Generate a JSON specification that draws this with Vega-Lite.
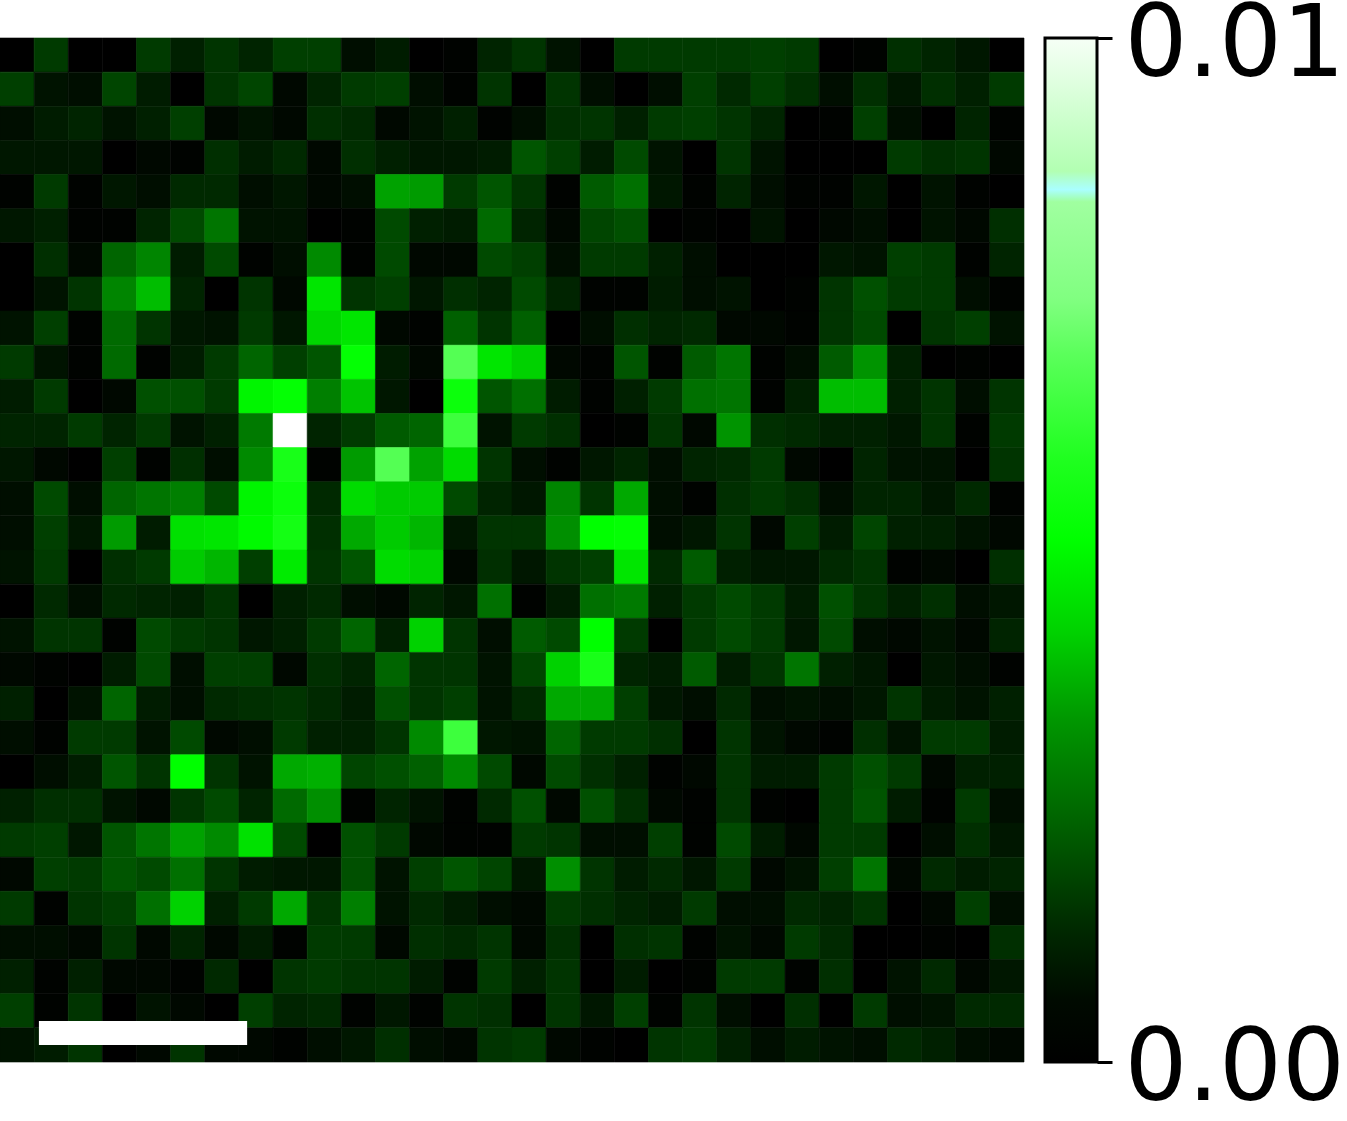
{"$schema":"https://vega.github.io/schema/vega-lite/v6.json","padding":{"left":-1,"top":-4,"right":0,"bottom":0},"background":"white","spacing":18,"config":{"view":{"stroke":null}},"hconcat":[{"width":1024,"height":1024,"layer":[{"data":{"values":[
{"r":0,"c":0,"v":0},{"r":0,"c":1,"v":0.0016},{"r":0,"c":2,"v":0},{"r":0,"c":3,"v":0},{"r":0,"c":4,"v":0.0016},{"r":0,"c":5,"v":0.0011},{"r":0,"c":6,"v":0.0015},{"r":0,"c":7,"v":0.0012},{"r":0,"c":8,"v":0.0017},{"r":0,"c":9,"v":0.0017},{"r":0,"c":10,"v":0.0007},{"r":0,"c":11,"v":0.001},{"r":0,"c":12,"v":0},{"r":0,"c":13,"v":0.0002},{"r":0,"c":14,"v":0.0012},{"r":0,"c":15,"v":0.0015},{"r":0,"c":16,"v":0.0008},{"r":0,"c":17,"v":0},{"r":0,"c":18,"v":0.0016},{"r":0,"c":19,"v":0.0016},{"r":0,"c":20,"v":0.0016},{"r":0,"c":21,"v":0.0016},{"r":0,"c":22,"v":0.0017},{"r":0,"c":23,"v":0.0016},{"r":0,"c":24,"v":0},{"r":0,"c":25,"v":0.0002},{"r":0,"c":26,"v":0.0014},{"r":0,"c":27,"v":0.0012},{"r":0,"c":28,"v":0.0009},{"r":0,"c":29,"v":0},
{"r":1,"c":0,"v":0.0017},{"r":1,"c":1,"v":0.0008},{"r":1,"c":2,"v":0.0007},{"r":1,"c":3,"v":0.0018},{"r":1,"c":4,"v":0.001},{"r":1,"c":5,"v":0},{"r":1,"c":6,"v":0.0015},{"r":1,"c":7,"v":0.0018},{"r":1,"c":8,"v":0.0005},{"r":1,"c":9,"v":0.0012},{"r":1,"c":10,"v":0.0016},{"r":1,"c":11,"v":0.0017},{"r":1,"c":12,"v":0.0007},{"r":1,"c":13,"v":0.0002},{"r":1,"c":14,"v":0.0015},{"r":1,"c":15,"v":0},{"r":1,"c":16,"v":0.0015},{"r":1,"c":17,"v":0.0007},{"r":1,"c":18,"v":0},{"r":1,"c":19,"v":0.0007},{"r":1,"c":20,"v":0.0017},{"r":1,"c":21,"v":0.0013},{"r":1,"c":22,"v":0.0017},{"r":1,"c":23,"v":0.0014},{"r":1,"c":24,"v":0.0007},{"r":1,"c":25,"v":0.0014},{"r":1,"c":26,"v":0.0009},{"r":1,"c":27,"v":0.0014},{"r":1,"c":28,"v":0.0011},{"r":1,"c":29,"v":0.0016},
{"r":2,"c":0,"v":0.0007},{"r":2,"c":1,"v":0.001},{"r":2,"c":2,"v":0.0012},{"r":2,"c":3,"v":0.0008},{"r":2,"c":4,"v":0.0011},{"r":2,"c":5,"v":0.0017},{"r":2,"c":6,"v":0.0005},{"r":2,"c":7,"v":0.0008},{"r":2,"c":8,"v":0.0005},{"r":2,"c":9,"v":0.0014},{"r":2,"c":10,"v":0.0013},{"r":2,"c":11,"v":0.0005},{"r":2,"c":12,"v":0.0008},{"r":2,"c":13,"v":0.0011},{"r":2,"c":14,"v":0.0002},{"r":2,"c":15,"v":0.0007},{"r":2,"c":16,"v":0.0014},{"r":2,"c":17,"v":0.0015},{"r":2,"c":18,"v":0.0011},{"r":2,"c":19,"v":0.0016},{"r":2,"c":20,"v":0.0017},{"r":2,"c":21,"v":0.0015},{"r":2,"c":22,"v":0.0012},{"r":2,"c":23,"v":0},{"r":2,"c":24,"v":0.0002},{"r":2,"c":25,"v":0.0017},{"r":2,"c":26,"v":0.0007},{"r":2,"c":27,"v":0},{"r":2,"c":28,"v":0.0012},{"r":2,"c":29,"v":0.0002},
{"r":3,"c":0,"v":0.0009},{"r":3,"c":1,"v":0.0009},{"r":3,"c":2,"v":0.0009},{"r":3,"c":3,"v":0},{"r":3,"c":4,"v":0.0005},{"r":3,"c":5,"v":0.0002},{"r":3,"c":6,"v":0.0014},{"r":3,"c":7,"v":0.001},{"r":3,"c":8,"v":0.0013},{"r":3,"c":9,"v":0.0005},{"r":3,"c":10,"v":0.0014},{"r":3,"c":11,"v":0.0011},{"r":3,"c":12,"v":0.0009},{"r":3,"c":13,"v":0.0009},{"r":3,"c":14,"v":0.001},{"r":3,"c":15,"v":0.0021},{"r":3,"c":16,"v":0.0017},{"r":3,"c":17,"v":0.001},{"r":3,"c":18,"v":0.0019},{"r":3,"c":19,"v":0.0008},{"r":3,"c":20,"v":0},{"r":3,"c":21,"v":0.0015},{"r":3,"c":22,"v":0.0008},{"r":3,"c":23,"v":0},{"r":3,"c":24,"v":0},{"r":3,"c":25,"v":0},{"r":3,"c":26,"v":0.0016},{"r":3,"c":27,"v":0.0014},{"r":3,"c":28,"v":0.0015},{"r":3,"c":29,"v":0.0005},
{"r":4,"c":0,"v":0.0002},{"r":4,"c":1,"v":0.0016},{"r":4,"c":2,"v":0.0002},{"r":4,"c":3,"v":0.0009},{"r":4,"c":4,"v":0.0007},{"r":4,"c":5,"v":0.0013},{"r":4,"c":6,"v":0.0013},{"r":4,"c":7,"v":0.0007},{"r":4,"c":8,"v":0.0009},{"r":4,"c":9,"v":0.0005},{"r":4,"c":10,"v":0.0007},{"r":4,"c":11,"v":0.0035},{"r":4,"c":12,"v":0.0034},{"r":4,"c":13,"v":0.0016},{"r":4,"c":14,"v":0.0021},{"r":4,"c":15,"v":0.0015},{"r":4,"c":16,"v":0.0002},{"r":4,"c":17,"v":0.0022},{"r":4,"c":18,"v":0.0026},{"r":4,"c":19,"v":0.0009},{"r":4,"c":20,"v":0.0002},{"r":4,"c":21,"v":0.0012},{"r":4,"c":22,"v":0.0007},{"r":4,"c":23,"v":0.0002},{"r":4,"c":24,"v":0.0002},{"r":4,"c":25,"v":0.0009},{"r":4,"c":26,"v":0},{"r":4,"c":27,"v":0.0008},{"r":4,"c":28,"v":0.0002},{"r":4,"c":29,"v":0},
{"r":5,"c":0,"v":0.0009},{"r":5,"c":1,"v":0.0011},{"r":5,"c":2,"v":0.0002},{"r":5,"c":3,"v":0.0002},{"r":5,"c":4,"v":0.0012},{"r":5,"c":5,"v":0.0019},{"r":5,"c":6,"v":0.0027},{"r":5,"c":7,"v":0.0008},{"r":5,"c":8,"v":0.0008},{"r":5,"c":9,"v":0},{"r":5,"c":10,"v":0.0002},{"r":5,"c":11,"v":0.0019},{"r":5,"c":12,"v":0.0011},{"r":5,"c":13,"v":0.001},{"r":5,"c":14,"v":0.0025},{"r":5,"c":15,"v":0.0012},{"r":5,"c":16,"v":0.0005},{"r":5,"c":17,"v":0.0018},{"r":5,"c":18,"v":0.002},{"r":5,"c":19,"v":0},{"r":5,"c":20,"v":0.0002},{"r":5,"c":21,"v":0},{"r":5,"c":22,"v":0.0008},{"r":5,"c":23,"v":0},{"r":5,"c":24,"v":0.0005},{"r":5,"c":25,"v":0.0007},{"r":5,"c":26,"v":0},{"r":5,"c":27,"v":0.0008},{"r":5,"c":28,"v":0.0005},{"r":5,"c":29,"v":0.0014},
{"r":6,"c":0,"v":0},{"r":6,"c":1,"v":0.0014},{"r":6,"c":2,"v":0.0005},{"r":6,"c":3,"v":0.0024},{"r":6,"c":4,"v":0.003},{"r":6,"c":5,"v":0.001},{"r":6,"c":6,"v":0.0019},{"r":6,"c":7,"v":0.0002},{"r":6,"c":8,"v":0.0007},{"r":6,"c":9,"v":0.0031},{"r":6,"c":10,"v":0.0002},{"r":6,"c":11,"v":0.0019},{"r":6,"c":12,"v":0.0005},{"r":6,"c":13,"v":0.0005},{"r":6,"c":14,"v":0.0019},{"r":6,"c":15,"v":0.0017},{"r":6,"c":16,"v":0.0007},{"r":6,"c":17,"v":0.0016},{"r":6,"c":18,"v":0.0016},{"r":6,"c":19,"v":0.0011},{"r":6,"c":20,"v":0.0007},{"r":6,"c":21,"v":0},{"r":6,"c":22,"v":0},{"r":6,"c":23,"v":0},{"r":6,"c":24,"v":0.0009},{"r":6,"c":25,"v":0.0008},{"r":6,"c":26,"v":0.0017},{"r":6,"c":27,"v":0.0016},{"r":6,"c":28,"v":0.0002},{"r":6,"c":29,"v":0.0012},
{"r":7,"c":0,"v":0},{"r":7,"c":1,"v":0.0008},{"r":7,"c":2,"v":0.0015},{"r":7,"c":3,"v":0.003},{"r":7,"c":4,"v":0.0039},{"r":7,"c":5,"v":0.0012},{"r":7,"c":6,"v":0},{"r":7,"c":7,"v":0.0015},{"r":7,"c":8,"v":0.0005},{"r":7,"c":9,"v":0.0046},{"r":7,"c":10,"v":0.0015},{"r":7,"c":11,"v":0.0017},{"r":7,"c":12,"v":0.0009},{"r":7,"c":13,"v":0.0014},{"r":7,"c":14,"v":0.0012},{"r":7,"c":15,"v":0.0019},{"r":7,"c":16,"v":0.0012},{"r":7,"c":17,"v":0.0002},{"r":7,"c":18,"v":0.0002},{"r":7,"c":19,"v":0.001},{"r":7,"c":20,"v":0.0007},{"r":7,"c":21,"v":0.0008},{"r":7,"c":22,"v":0},{"r":7,"c":23,"v":0.0002},{"r":7,"c":24,"v":0.0015},{"r":7,"c":25,"v":0.002},{"r":7,"c":26,"v":0.0016},{"r":7,"c":27,"v":0.0016},{"r":7,"c":28,"v":0.0007},{"r":7,"c":29,"v":0.0002},
{"r":8,"c":0,"v":0.0008},{"r":8,"c":1,"v":0.0017},{"r":8,"c":2,"v":0.0002},{"r":8,"c":3,"v":0.0025},{"r":8,"c":4,"v":0.0015},{"r":8,"c":5,"v":0.0009},{"r":8,"c":6,"v":0.0008},{"r":8,"c":7,"v":0.0016},{"r":8,"c":8,"v":0.0009},{"r":8,"c":9,"v":0.0043},{"r":8,"c":10,"v":0.0046},{"r":8,"c":11,"v":0.0005},{"r":8,"c":12,"v":0.0002},{"r":8,"c":13,"v":0.0023},{"r":8,"c":14,"v":0.0015},{"r":8,"c":15,"v":0.0023},{"r":8,"c":16,"v":0},{"r":8,"c":17,"v":0.0007},{"r":8,"c":18,"v":0.0014},{"r":8,"c":19,"v":0.0012},{"r":8,"c":20,"v":0.0013},{"r":8,"c":21,"v":0.0005},{"r":8,"c":22,"v":0.0005},{"r":8,"c":23,"v":0.0002},{"r":8,"c":24,"v":0.0015},{"r":8,"c":25,"v":0.0019},{"r":8,"c":26,"v":0},{"r":8,"c":27,"v":0.0015},{"r":8,"c":28,"v":0.0017},{"r":8,"c":29,"v":0.0008},
{"r":9,"c":0,"v":0.0016},{"r":9,"c":1,"v":0.0008},{"r":9,"c":2,"v":0.0002},{"r":9,"c":3,"v":0.0025},{"r":9,"c":4,"v":0.0002},{"r":9,"c":5,"v":0.001},{"r":9,"c":6,"v":0.0016},{"r":9,"c":7,"v":0.0024},{"r":9,"c":8,"v":0.0017},{"r":9,"c":9,"v":0.0021},{"r":9,"c":10,"v":0.0052},{"r":9,"c":11,"v":0.001},{"r":9,"c":12,"v":0.0005},{"r":9,"c":13,"v":0.0068},{"r":9,"c":14,"v":0.0046},{"r":9,"c":15,"v":0.0042},{"r":9,"c":16,"v":0.0005},{"r":9,"c":17,"v":0.0002},{"r":9,"c":18,"v":0.0021},{"r":9,"c":19,"v":0.0002},{"r":9,"c":20,"v":0.0022},{"r":9,"c":21,"v":0.0027},{"r":9,"c":22,"v":0.0002},{"r":9,"c":23,"v":0.0007},{"r":9,"c":24,"v":0.0022},{"r":9,"c":25,"v":0.0033},{"r":9,"c":26,"v":0.0011},{"r":9,"c":27,"v":0},{"r":9,"c":28,"v":0.0002},{"r":9,"c":29,"v":0},
{"r":10,"c":0,"v":0.001},{"r":10,"c":1,"v":0.0016},{"r":10,"c":2,"v":0},{"r":10,"c":3,"v":0.0005},{"r":10,"c":4,"v":0.002},{"r":10,"c":5,"v":0.002},{"r":10,"c":6,"v":0.0016},{"r":10,"c":7,"v":0.0049},{"r":10,"c":8,"v":0.0052},{"r":10,"c":9,"v":0.0029},{"r":10,"c":10,"v":0.004},{"r":10,"c":11,"v":0.0009},{"r":10,"c":12,"v":0},{"r":10,"c":13,"v":0.0054},{"r":10,"c":14,"v":0.0021},{"r":10,"c":15,"v":0.0026},{"r":10,"c":16,"v":0.001},{"r":10,"c":17,"v":0.0002},{"r":10,"c":18,"v":0.0011},{"r":10,"c":19,"v":0.0016},{"r":10,"c":20,"v":0.0026},{"r":10,"c":21,"v":0.0027},{"r":10,"c":22,"v":0.0002},{"r":10,"c":23,"v":0.0011},{"r":10,"c":24,"v":0.0039},{"r":10,"c":25,"v":0.0039},{"r":10,"c":26,"v":0.0011},{"r":10,"c":27,"v":0.0015},{"r":10,"c":28,"v":0.0007},{"r":10,"c":29,"v":0.0015},
{"r":11,"c":0,"v":0.0012},{"r":11,"c":1,"v":0.0012},{"r":11,"c":2,"v":0.0016},{"r":11,"c":3,"v":0.0012},{"r":11,"c":4,"v":0.0016},{"r":11,"c":5,"v":0.0008},{"r":11,"c":6,"v":0.0011},{"r":11,"c":7,"v":0.0028},{"r":11,"c":8,"v":0.01},{"r":11,"c":9,"v":0.0012},{"r":11,"c":10,"v":0.0016},{"r":11,"c":11,"v":0.0022},{"r":11,"c":12,"v":0.0024},{"r":11,"c":13,"v":0.0064},{"r":11,"c":14,"v":0.0008},{"r":11,"c":15,"v":0.0016},{"r":11,"c":16,"v":0.0014},{"r":11,"c":17,"v":0},{"r":11,"c":18,"v":0.0002},{"r":11,"c":19,"v":0.0015},{"r":11,"c":20,"v":0.0005},{"r":11,"c":21,"v":0.0033},{"r":11,"c":22,"v":0.0014},{"r":11,"c":23,"v":0.0013},{"r":11,"c":24,"v":0.0011},{"r":11,"c":25,"v":0.0011},{"r":11,"c":26,"v":0.0009},{"r":11,"c":27,"v":0.0015},{"r":11,"c":28,"v":0.0002},{"r":11,"c":29,"v":0.0016},
{"r":12,"c":0,"v":0.0009},{"r":12,"c":1,"v":0.0005},{"r":12,"c":2,"v":0},{"r":12,"c":3,"v":0.0017},{"r":12,"c":4,"v":0.0002},{"r":12,"c":5,"v":0.0014},{"r":12,"c":6,"v":0.0007},{"r":12,"c":7,"v":0.0031},{"r":12,"c":8,"v":0.0057},{"r":12,"c":9,"v":0.0002},{"r":12,"c":10,"v":0.0034},{"r":12,"c":11,"v":0.0068},{"r":12,"c":12,"v":0.0035},{"r":12,"c":13,"v":0.0044},{"r":12,"c":14,"v":0.0015},{"r":12,"c":15,"v":0.0007},{"r":12,"c":16,"v":0.0002},{"r":12,"c":17,"v":0.0009},{"r":12,"c":18,"v":0.0012},{"r":12,"c":19,"v":0.0007},{"r":12,"c":20,"v":0.0012},{"r":12,"c":21,"v":0.0013},{"r":12,"c":22,"v":0.0016},{"r":12,"c":23,"v":0.0005},{"r":12,"c":24,"v":0},{"r":12,"c":25,"v":0.0012},{"r":12,"c":26,"v":0.0008},{"r":12,"c":27,"v":0.0008},{"r":12,"c":28,"v":0},{"r":12,"c":29,"v":0.0015},
{"r":13,"c":0,"v":0.0007},{"r":13,"c":1,"v":0.0019},{"r":13,"c":2,"v":0.0007},{"r":13,"c":3,"v":0.0024},{"r":13,"c":4,"v":0.0027},{"r":13,"c":5,"v":0.0029},{"r":13,"c":6,"v":0.0019},{"r":13,"c":7,"v":0.0049},{"r":13,"c":8,"v":0.0054},{"r":13,"c":9,"v":0.0013},{"r":13,"c":10,"v":0.0044},{"r":13,"c":11,"v":0.0041},{"r":13,"c":12,"v":0.0041},{"r":13,"c":13,"v":0.0019},{"r":13,"c":14,"v":0.0012},{"r":13,"c":15,"v":0.0009},{"r":13,"c":16,"v":0.003},{"r":13,"c":17,"v":0.0015},{"r":13,"c":18,"v":0.0036},{"r":13,"c":19,"v":0.0007},{"r":13,"c":20,"v":0.0002},{"r":13,"c":21,"v":0.0014},{"r":13,"c":22,"v":0.0016},{"r":13,"c":23,"v":0.0014},{"r":13,"c":24,"v":0.0007},{"r":13,"c":25,"v":0.0012},{"r":13,"c":26,"v":0.0012},{"r":13,"c":27,"v":0.0009},{"r":13,"c":28,"v":0.0013},{"r":13,"c":29,"v":0.0002},
{"r":14,"c":0,"v":0.0007},{"r":14,"c":1,"v":0.0017},{"r":14,"c":2,"v":0.0009},{"r":14,"c":3,"v":0.0034},{"r":14,"c":4,"v":0.001},{"r":14,"c":5,"v":0.0045},{"r":14,"c":6,"v":0.0046},{"r":14,"c":7,"v":0.005},{"r":14,"c":8,"v":0.0056},{"r":14,"c":9,"v":0.0014},{"r":14,"c":10,"v":0.0036},{"r":14,"c":11,"v":0.0041},{"r":14,"c":12,"v":0.0038},{"r":14,"c":13,"v":0.0009},{"r":14,"c":14,"v":0.0015},{"r":14,"c":15,"v":0.0015},{"r":14,"c":16,"v":0.0032},{"r":14,"c":17,"v":0.0051},{"r":14,"c":18,"v":0.0052},{"r":14,"c":19,"v":0.0007},{"r":14,"c":20,"v":0.0009},{"r":14,"c":21,"v":0.0015},{"r":14,"c":22,"v":0.0005},{"r":14,"c":23,"v":0.0017},{"r":14,"c":24,"v":0.001},{"r":14,"c":25,"v":0.0018},{"r":14,"c":26,"v":0.0011},{"r":14,"c":27,"v":0.0011},{"r":14,"c":28,"v":0.0008},{"r":14,"c":29,"v":0.0005},
{"r":15,"c":0,"v":0.0008},{"r":15,"c":1,"v":0.0016},{"r":15,"c":2,"v":0},{"r":15,"c":3,"v":0.0014},{"r":15,"c":4,"v":0.0016},{"r":15,"c":5,"v":0.0041},{"r":15,"c":6,"v":0.0038},{"r":15,"c":7,"v":0.0017},{"r":15,"c":8,"v":0.0047},{"r":15,"c":9,"v":0.0015},{"r":15,"c":10,"v":0.0021},{"r":15,"c":11,"v":0.0044},{"r":15,"c":12,"v":0.0042},{"r":15,"c":13,"v":0.0005},{"r":15,"c":14,"v":0.0014},{"r":15,"c":15,"v":0.0009},{"r":15,"c":16,"v":0.0015},{"r":15,"c":17,"v":0.0017},{"r":15,"c":18,"v":0.0046},{"r":15,"c":19,"v":0.0013},{"r":15,"c":20,"v":0.0022},{"r":15,"c":21,"v":0.0011},{"r":15,"c":22,"v":0.0009},{"r":15,"c":23,"v":0.0009},{"r":15,"c":24,"v":0.0013},{"r":15,"c":25,"v":0.0015},{"r":15,"c":26,"v":0.0002},{"r":15,"c":27,"v":0.0005},{"r":15,"c":28,"v":0},{"r":15,"c":29,"v":0.0014},
{"r":16,"c":0,"v":0},{"r":16,"c":1,"v":0.0013},{"r":16,"c":2,"v":0.0007},{"r":16,"c":3,"v":0.0013},{"r":16,"c":4,"v":0.0012},{"r":16,"c":5,"v":0.0011},{"r":16,"c":6,"v":0.0015},{"r":16,"c":7,"v":0},{"r":16,"c":8,"v":0.0011},{"r":16,"c":9,"v":0.0013},{"r":16,"c":10,"v":0.0007},{"r":16,"c":11,"v":0.0005},{"r":16,"c":12,"v":0.0012},{"r":16,"c":13,"v":0.0009},{"r":16,"c":14,"v":0.0026},{"r":16,"c":15,"v":0.0002},{"r":16,"c":16,"v":0.001},{"r":16,"c":17,"v":0.0026},{"r":16,"c":18,"v":0.0028},{"r":16,"c":19,"v":0.0011},{"r":16,"c":20,"v":0.0016},{"r":16,"c":21,"v":0.0019},{"r":16,"c":22,"v":0.0016},{"r":16,"c":23,"v":0.001},{"r":16,"c":24,"v":0.002},{"r":16,"c":25,"v":0.0015},{"r":16,"c":26,"v":0.0011},{"r":16,"c":27,"v":0.0014},{"r":16,"c":28,"v":0.0007},{"r":16,"c":29,"v":0.0009},
{"r":17,"c":0,"v":0.0008},{"r":17,"c":1,"v":0.0015},{"r":17,"c":2,"v":0.0015},{"r":17,"c":3,"v":0.0002},{"r":17,"c":4,"v":0.0019},{"r":17,"c":5,"v":0.0016},{"r":17,"c":6,"v":0.0015},{"r":17,"c":7,"v":0.0009},{"r":17,"c":8,"v":0.0011},{"r":17,"c":9,"v":0.0016},{"r":17,"c":10,"v":0.0024},{"r":17,"c":11,"v":0.0011},{"r":17,"c":12,"v":0.0042},{"r":17,"c":13,"v":0.0015},{"r":17,"c":14,"v":0.0007},{"r":17,"c":15,"v":0.0022},{"r":17,"c":16,"v":0.0019},{"r":17,"c":17,"v":0.0051},{"r":17,"c":18,"v":0.0016},{"r":17,"c":19,"v":0},{"r":17,"c":20,"v":0.0016},{"r":17,"c":21,"v":0.0019},{"r":17,"c":22,"v":0.0016},{"r":17,"c":23,"v":0.0009},{"r":17,"c":24,"v":0.0019},{"r":17,"c":25,"v":0.0007},{"r":17,"c":26,"v":0.0005},{"r":17,"c":27,"v":0.0008},{"r":17,"c":28,"v":0.0005},{"r":17,"c":29,"v":0.0012},
{"r":18,"c":0,"v":0.0005},{"r":18,"c":1,"v":0.0002},{"r":18,"c":2,"v":0},{"r":18,"c":3,"v":0.001},{"r":18,"c":4,"v":0.0019},{"r":18,"c":5,"v":0.0007},{"r":18,"c":6,"v":0.0017},{"r":18,"c":7,"v":0.0017},{"r":18,"c":8,"v":0.0005},{"r":18,"c":9,"v":0.0014},{"r":18,"c":10,"v":0.0012},{"r":18,"c":11,"v":0.0024},{"r":18,"c":12,"v":0.0015},{"r":18,"c":13,"v":0.0015},{"r":18,"c":14,"v":0.0008},{"r":18,"c":15,"v":0.0018},{"r":18,"c":16,"v":0.0042},{"r":18,"c":17,"v":0.0057},{"r":18,"c":18,"v":0.0012},{"r":18,"c":19,"v":0.001},{"r":18,"c":20,"v":0.0022},{"r":18,"c":21,"v":0.001},{"r":18,"c":22,"v":0.0015},{"r":18,"c":23,"v":0.0027},{"r":18,"c":24,"v":0.0011},{"r":18,"c":25,"v":0.0009},{"r":18,"c":26,"v":0},{"r":18,"c":27,"v":0.0009},{"r":18,"c":28,"v":0.0007},{"r":18,"c":29,"v":0.0002},
{"r":19,"c":0,"v":0.0011},{"r":19,"c":1,"v":0},{"r":19,"c":2,"v":0.0008},{"r":19,"c":3,"v":0.0024},{"r":19,"c":4,"v":0.001},{"r":19,"c":5,"v":0.0007},{"r":19,"c":6,"v":0.0013},{"r":19,"c":7,"v":0.0014},{"r":19,"c":8,"v":0.0015},{"r":19,"c":9,"v":0.0013},{"r":19,"c":10,"v":0.001},{"r":19,"c":11,"v":0.002},{"r":19,"c":12,"v":0.0015},{"r":19,"c":13,"v":0.0017},{"r":19,"c":14,"v":0.0008},{"r":19,"c":15,"v":0.0013},{"r":19,"c":16,"v":0.0036},{"r":19,"c":17,"v":0.0036},{"r":19,"c":18,"v":0.0017},{"r":19,"c":19,"v":0.0009},{"r":19,"c":20,"v":0.0007},{"r":19,"c":21,"v":0.0013},{"r":19,"c":22,"v":0.0007},{"r":19,"c":23,"v":0.0008},{"r":19,"c":24,"v":0.0007},{"r":19,"c":25,"v":0.0009},{"r":19,"c":26,"v":0.0015},{"r":19,"c":27,"v":0.001},{"r":19,"c":28,"v":0.0008},{"r":19,"c":29,"v":0.0011},
{"r":20,"c":0,"v":0.0007},{"r":20,"c":1,"v":0.0002},{"r":20,"c":2,"v":0.0016},{"r":20,"c":3,"v":0.0016},{"r":20,"c":4,"v":0.0008},{"r":20,"c":5,"v":0.0019},{"r":20,"c":6,"v":0.0005},{"r":20,"c":7,"v":0.0007},{"r":20,"c":8,"v":0.0016},{"r":20,"c":9,"v":0.0011},{"r":20,"c":10,"v":0.0011},{"r":20,"c":11,"v":0.0015},{"r":20,"c":12,"v":0.0031},{"r":20,"c":13,"v":0.0064},{"r":20,"c":14,"v":0.0009},{"r":20,"c":15,"v":0.0008},{"r":20,"c":16,"v":0.0024},{"r":20,"c":17,"v":0.0016},{"r":20,"c":18,"v":0.0016},{"r":20,"c":19,"v":0.0014},{"r":20,"c":20,"v":0},{"r":20,"c":21,"v":0.0015},{"r":20,"c":22,"v":0.0008},{"r":20,"c":23,"v":0.0005},{"r":20,"c":24,"v":0.0002},{"r":20,"c":25,"v":0.0014},{"r":20,"c":26,"v":0.0008},{"r":20,"c":27,"v":0.0016},{"r":20,"c":28,"v":0.0016},{"r":20,"c":29,"v":0.001},
{"r":21,"c":0,"v":0},{"r":21,"c":1,"v":0.0007},{"r":21,"c":2,"v":0.001},{"r":21,"c":3,"v":0.0021},{"r":21,"c":4,"v":0.0015},{"r":21,"c":5,"v":0.0051},{"r":21,"c":6,"v":0.0015},{"r":21,"c":7,"v":0.0008},{"r":21,"c":8,"v":0.0036},{"r":21,"c":9,"v":0.0037},{"r":21,"c":10,"v":0.0018},{"r":21,"c":11,"v":0.002},{"r":21,"c":12,"v":0.0023},{"r":21,"c":13,"v":0.0031},{"r":21,"c":14,"v":0.0019},{"r":21,"c":15,"v":0.0005},{"r":21,"c":16,"v":0.0019},{"r":21,"c":17,"v":0.0014},{"r":21,"c":18,"v":0.0011},{"r":21,"c":19,"v":0.0002},{"r":21,"c":20,"v":0.0005},{"r":21,"c":21,"v":0.0015},{"r":21,"c":22,"v":0.001},{"r":21,"c":23,"v":0.001},{"r":21,"c":24,"v":0.0016},{"r":21,"c":25,"v":0.002},{"r":21,"c":26,"v":0.0016},{"r":21,"c":27,"v":0.0005},{"r":21,"c":28,"v":0.0011},{"r":21,"c":29,"v":0.0011},
{"r":22,"c":0,"v":0.0011},{"r":22,"c":1,"v":0.0014},{"r":22,"c":2,"v":0.0014},{"r":22,"c":3,"v":0.0008},{"r":22,"c":4,"v":0.0005},{"r":22,"c":5,"v":0.0015},{"r":22,"c":6,"v":0.0019},{"r":22,"c":7,"v":0.0012},{"r":22,"c":8,"v":0.0025},{"r":22,"c":9,"v":0.0032},{"r":22,"c":10,"v":0.0002},{"r":22,"c":11,"v":0.0012},{"r":22,"c":12,"v":0.0008},{"r":22,"c":13,"v":0.0002},{"r":22,"c":14,"v":0.0013},{"r":22,"c":15,"v":0.002},{"r":22,"c":16,"v":0.0005},{"r":22,"c":17,"v":0.002},{"r":22,"c":18,"v":0.0014},{"r":22,"c":19,"v":0.0005},{"r":22,"c":20,"v":0.0002},{"r":22,"c":21,"v":0.0015},{"r":22,"c":22,"v":0.0002},{"r":22,"c":23,"v":0},{"r":22,"c":24,"v":0.0016},{"r":22,"c":25,"v":0.0021},{"r":22,"c":26,"v":0.001},{"r":22,"c":27,"v":0.0002},{"r":22,"c":28,"v":0.0016},{"r":22,"c":29,"v":0.0007},
{"r":23,"c":0,"v":0.0016},{"r":23,"c":1,"v":0.0017},{"r":23,"c":2,"v":0.0009},{"r":23,"c":3,"v":0.0021},{"r":23,"c":4,"v":0.0027},{"r":23,"c":5,"v":0.0035},{"r":23,"c":6,"v":0.0031},{"r":23,"c":7,"v":0.0045},{"r":23,"c":8,"v":0.0019},{"r":23,"c":9,"v":0},{"r":23,"c":10,"v":0.002},{"r":23,"c":11,"v":0.0016},{"r":23,"c":12,"v":0.0005},{"r":23,"c":13,"v":0.0002},{"r":23,"c":14,"v":0.0002},{"r":23,"c":15,"v":0.0016},{"r":23,"c":16,"v":0.0015},{"r":23,"c":17,"v":0.0007},{"r":23,"c":18,"v":0.0007},{"r":23,"c":19,"v":0.0017},{"r":23,"c":20,"v":0.0002},{"r":23,"c":21,"v":0.0019},{"r":23,"c":22,"v":0.001},{"r":23,"c":23,"v":0.0005},{"r":23,"c":24,"v":0.0016},{"r":23,"c":25,"v":0.0016},{"r":23,"c":26,"v":0},{"r":23,"c":27,"v":0.0007},{"r":23,"c":28,"v":0.0014},{"r":23,"c":29,"v":0.0009},
{"r":24,"c":0,"v":0.0005},{"r":24,"c":1,"v":0.0017},{"r":24,"c":2,"v":0.0016},{"r":24,"c":3,"v":0.0021},{"r":24,"c":4,"v":0.0019},{"r":24,"c":5,"v":0.0026},{"r":24,"c":6,"v":0.0015},{"r":24,"c":7,"v":0.001},{"r":24,"c":8,"v":0.0009},{"r":24,"c":9,"v":0.0009},{"r":24,"c":10,"v":0.002},{"r":24,"c":11,"v":0.0008},{"r":24,"c":12,"v":0.0017},{"r":24,"c":13,"v":0.0021},{"r":24,"c":14,"v":0.0018},{"r":24,"c":15,"v":0.0009},{"r":24,"c":16,"v":0.0032},{"r":24,"c":17,"v":0.0015},{"r":24,"c":18,"v":0.001},{"r":24,"c":19,"v":0.0013},{"r":24,"c":20,"v":0.0009},{"r":24,"c":21,"v":0.0016},{"r":24,"c":22,"v":0.0005},{"r":24,"c":23,"v":0.0008},{"r":24,"c":24,"v":0.0017},{"r":24,"c":25,"v":0.0027},{"r":24,"c":26,"v":0.0005},{"r":24,"c":27,"v":0.0013},{"r":24,"c":28,"v":0.001},{"r":24,"c":29,"v":0.0012},
{"r":25,"c":0,"v":0.0016},{"r":25,"c":1,"v":0.0002},{"r":25,"c":2,"v":0.0015},{"r":25,"c":3,"v":0.0017},{"r":25,"c":4,"v":0.0026},{"r":25,"c":5,"v":0.0042},{"r":25,"c":6,"v":0.0011},{"r":25,"c":7,"v":0.0016},{"r":25,"c":8,"v":0.0036},{"r":25,"c":9,"v":0.0015},{"r":25,"c":10,"v":0.0029},{"r":25,"c":11,"v":0.0008},{"r":25,"c":12,"v":0.0013},{"r":25,"c":13,"v":0.001},{"r":25,"c":14,"v":0.0007},{"r":25,"c":15,"v":0.0005},{"r":25,"c":16,"v":0.0016},{"r":25,"c":17,"v":0.0014},{"r":25,"c":18,"v":0.0012},{"r":25,"c":19,"v":0.001},{"r":25,"c":20,"v":0.0016},{"r":25,"c":21,"v":0.0007},{"r":25,"c":22,"v":0.0007},{"r":25,"c":23,"v":0.0013},{"r":25,"c":24,"v":0.0012},{"r":25,"c":25,"v":0.0015},{"r":25,"c":26,"v":0},{"r":25,"c":27,"v":0.0005},{"r":25,"c":28,"v":0.0017},{"r":25,"c":29,"v":0.0007},
{"r":26,"c":0,"v":0.0007},{"r":26,"c":1,"v":0.0007},{"r":26,"c":2,"v":0.0005},{"r":26,"c":3,"v":0.0015},{"r":26,"c":4,"v":0.0005},{"r":26,"c":5,"v":0.0012},{"r":26,"c":6,"v":0.0005},{"r":26,"c":7,"v":0.001},{"r":26,"c":8,"v":0.0002},{"r":26,"c":9,"v":0.0016},{"r":26,"c":10,"v":0.0016},{"r":26,"c":11,"v":0.0005},{"r":26,"c":12,"v":0.0014},{"r":26,"c":13,"v":0.0013},{"r":26,"c":14,"v":0.0015},{"r":26,"c":15,"v":0.0005},{"r":26,"c":16,"v":0.0014},{"r":26,"c":17,"v":0},{"r":26,"c":18,"v":0.0014},{"r":26,"c":19,"v":0.0015},{"r":26,"c":20,"v":0.0002},{"r":26,"c":21,"v":0.0008},{"r":26,"c":22,"v":0.0005},{"r":26,"c":23,"v":0.0016},{"r":26,"c":24,"v":0.0013},{"r":26,"c":25,"v":0},{"r":26,"c":26,"v":0},{"r":26,"c":27,"v":0.0002},{"r":26,"c":28,"v":0},{"r":26,"c":29,"v":0.0014},
{"r":27,"c":0,"v":0.0011},{"r":27,"c":1,"v":0.0002},{"r":27,"c":2,"v":0.0011},{"r":27,"c":3,"v":0.0005},{"r":27,"c":4,"v":0.0005},{"r":27,"c":5,"v":0.0002},{"r":27,"c":6,"v":0.0013},{"r":27,"c":7,"v":0},{"r":27,"c":8,"v":0.0015},{"r":27,"c":9,"v":0.0016},{"r":27,"c":10,"v":0.0015},{"r":27,"c":11,"v":0.0015},{"r":27,"c":12,"v":0.001},{"r":27,"c":13,"v":0.0002},{"r":27,"c":14,"v":0.0016},{"r":27,"c":15,"v":0.0011},{"r":27,"c":16,"v":0.0015},{"r":27,"c":17,"v":0},{"r":27,"c":18,"v":0.001},{"r":27,"c":19,"v":0},{"r":27,"c":20,"v":0.0002},{"r":27,"c":21,"v":0.0016},{"r":27,"c":22,"v":0.0016},{"r":27,"c":23,"v":0.0002},{"r":27,"c":24,"v":0.0014},{"r":27,"c":25,"v":0},{"r":27,"c":26,"v":0.0008},{"r":27,"c":27,"v":0.0013},{"r":27,"c":28,"v":0.0005},{"r":27,"c":29,"v":0.0009},
{"r":28,"c":0,"v":0.0017},{"r":28,"c":1,"v":0.0002},{"r":28,"c":2,"v":0.0015},{"r":28,"c":3,"v":0},{"r":28,"c":4,"v":0.0008},{"r":28,"c":5,"v":0.0005},{"r":28,"c":6,"v":0},{"r":28,"c":7,"v":0.0017},{"r":28,"c":8,"v":0.0012},{"r":28,"c":9,"v":0.0013},{"r":28,"c":10,"v":0.0002},{"r":28,"c":11,"v":0.0009},{"r":28,"c":12,"v":0.0002},{"r":28,"c":13,"v":0.0015},{"r":28,"c":14,"v":0.0014},{"r":28,"c":15,"v":0},{"r":28,"c":16,"v":0.0015},{"r":28,"c":17,"v":0.0009},{"r":28,"c":18,"v":0.0017},{"r":28,"c":19,"v":0.0002},{"r":28,"c":20,"v":0.0015},{"r":28,"c":21,"v":0.0007},{"r":28,"c":22,"v":0},{"r":28,"c":23,"v":0.0014},{"r":28,"c":24,"v":0},{"r":28,"c":25,"v":0.0016},{"r":28,"c":26,"v":0.0007},{"r":28,"c":27,"v":0.0008},{"r":28,"c":28,"v":0.0013},{"r":28,"c":29,"v":0.0013},
{"r":29,"c":0,"v":0.0008},{"r":29,"c":1,"v":0.001},{"r":29,"c":2,"v":0.0015},{"r":29,"c":3,"v":0},{"r":29,"c":4,"v":0.0005},{"r":29,"c":5,"v":0.0015},{"r":29,"c":6,"v":0.0005},{"r":29,"c":7,"v":0.0005},{"r":29,"c":8,"v":0.0002},{"r":29,"c":9,"v":0.0007},{"r":29,"c":10,"v":0.0009},{"r":29,"c":11,"v":0.0014},{"r":29,"c":12,"v":0.0007},{"r":29,"c":13,"v":0.0005},{"r":29,"c":14,"v":0.0015},{"r":29,"c":15,"v":0.0016},{"r":29,"c":16,"v":0.0005},{"r":29,"c":17,"v":0.0002},{"r":29,"c":18,"v":0},{"r":29,"c":19,"v":0.0015},{"r":29,"c":20,"v":0.0016},{"r":29,"c":21,"v":0.0011},{"r":29,"c":22,"v":0.0007},{"r":29,"c":23,"v":0.001},{"r":29,"c":24,"v":0.0008},{"r":29,"c":25,"v":0.0007},{"r":29,"c":26,"v":0.0013},{"r":29,"c":27,"v":0.0011},{"r":29,"c":28,"v":0.0007},{"r":29,"c":29,"v":0.0005}
]},"mark":{"type":"rect","strokeWidth":0.6},"encoding":{"x":{"field":"c","type":"ordinal","axis":null,"scale":{"paddingInner":0,"paddingOuter":0,"round":false}},"y":{"field":"r","type":"ordinal","axis":null,"scale":{"paddingInner":0,"paddingOuter":0,"round":false}},"color":{"field":"v","type":"quantitative","legend":null,"scale":{"domain":[0,0.0006,0.00128,0.0023,0.00333,0.0042,0.0051,0.0059,0.00693,0.00744,0.0084,0.00852,0.0087,0.01],"range":["#000000","#000a00","#002800","#006000","#009600","#00d200","#00ff00","#20ff20","#5cff5c","#80ff80","#a0ffa0","#aaffff","#b2ffb2","#ffffff"],"interpolate":"rgb"}},"stroke":{"field":"v","type":"quantitative","legend":null,"scale":{"domain":[0,0.0006,0.00128,0.0023,0.00333,0.0042,0.0051,0.0059,0.00693,0.00744,0.0084,0.00852,0.0087,0.01],"range":["#000000","#000a00","#002800","#006000","#009600","#00d200","#00ff00","#20ff20","#5cff5c","#80ff80","#a0ffa0","#aaffff","#b2ffb2","#ffffff"],"interpolate":"rgb"}}}},{"data":{"values":[{"x0":1.14,"x1":7.24,"y0":28.8,"y1":29.5}]},"mark":{"type":"rect","color":"white"},"encoding":{"x":{"field":"x0","type":"quantitative","axis":null,"scale":{"domain":[0,30]}},"x2":{"field":"x1"},"y":{"field":"y0","type":"quantitative","axis":null,"scale":{"domain":[30,0]}},"y2":{"field":"y1"}}}],"resolve":{"scale":{"x":"independent","y":"independent"}}},{"width":52,"height":1024,"data":{"values":[{"lo":0,"hi":0.01}]},"mark":{"type":"rect","stroke":"black","strokeWidth":3,"fill":{"gradient":"linear","x1":0,"y1":1,"x2":0,"y2":0,"stops":[{"offset":0,"color":"#000000"},{"offset":0.06,"color":"#000a00"},{"offset":0.128,"color":"#002800"},{"offset":0.23,"color":"#006000"},{"offset":0.333,"color":"#009600"},{"offset":0.42,"color":"#00d200"},{"offset":0.51,"color":"#00ff00"},{"offset":0.59,"color":"#20ff20"},{"offset":0.693,"color":"#5cff5c"},{"offset":0.744,"color":"#80ff80"},{"offset":0.84,"color":"#a0ffa0"},{"offset":0.852,"color":"#aaffff"},{"offset":0.87,"color":"#b2ffb2"},{"offset":1,"color":"#f6fff6"}]}},"encoding":{"y":{"field":"lo","type":"quantitative","scale":{"domain":[0,0.01],"nice":false},"axis":{"orient":"right","values":[0,0.01],"format":".2f","title":null,"grid":false,"domain":false,"ticks":true,"tickSize":15,"tickWidth":3,"tickColor":"black","labelFont":"DejaVu Sans","labelFontSize":99,"labelColor":"black","labelPadding":12,"labelOffset":7,"labelLimit":400,"labelFlush":false,"labelOverlap":false,"labelBound":false}},"y2":{"field":"hi"}}}]}
